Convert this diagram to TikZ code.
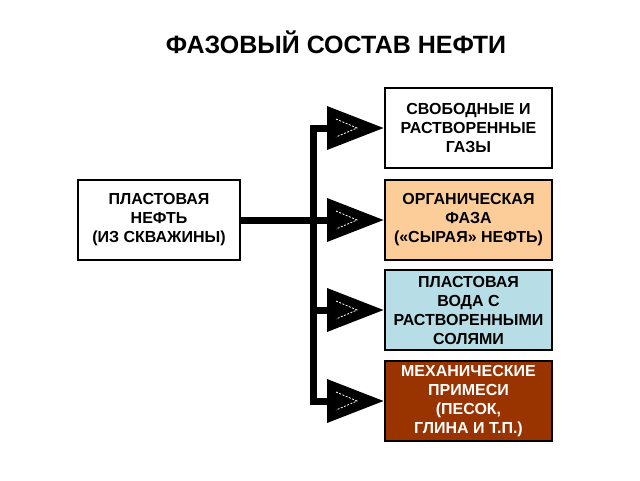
\documentclass[tikz,border=0pt]{standalone}
\usepackage{fontspec}
\setmainfont{Liberation Sans}
\usetikzlibrary{arrows.meta,calc}
\definecolor{peach}{RGB}{252,204,153}
\definecolor{lblue}{RGB}{183,222,230}
\definecolor{brownbox}{RGB}{153,51,0}
\tikzset{
  box/.style={draw=black, line width=2pt, minimum width=167pt, minimum height=80pt,
    align=center, font=\bfseries\fontsize{16}{19}\selectfont, inner sep=1pt},
  trunk/.style={line width=7pt},
  branch/.style={line width=7pt, -{Triangle[length=57pt,width=42pt]}},
  chev/.style={white, line width=0.8pt, dash pattern=on 2pt off 1.5pt}
}
\begin{document}
\begin{tikzpicture}[x=1pt,y=-1pt]
\useasboundingbox (0,0) rectangle (640,480);
\node[font=\bfseries\fontsize{25}{28}\selectfont] (title) at (336,42) {ФАЗОВЫЙ СОСТАВ НЕФТИ};
\node[box, minimum width=162pt] (src) at (159,220) {ПЛАСТОВАЯ\\НЕФТЬ\\(ИЗ СКВАЖИНЫ)};
\node[box] (b1) at (468.5,128) {СВОБОДНЫЕ И\\РАСТВОРЕННЫЕ\\ГАЗЫ};
\node[box, fill=peach] (b2) at (468.5,220) {ОРГАНИЧЕСКАЯ\\ФАЗА\\(«СЫРАЯ» НЕФТЬ)};
\node[box, fill=lblue] (b3) at (468.5,310) {ПЛАСТОВАЯ\\ВОДА С\\РАСТВОРЕННЫМИ\\СОЛЯМИ};
\node[box, fill=brownbox, text=white] (b4) at (468.5,401) {МЕХАНИЧЕСКИЕ\\ПРИМЕСИ\\(ПЕСОК,\\ГЛИНА И Т.П.)};
\coordinate (ttop) at (313.5,128);
\coordinate (tbot) at (313.5,401);
\draw[trunk, line cap=rect] (ttop) -- (tbot);
\draw[branch] (src.east) -- (b2.west);
\foreach \b in {b1,b3,b4}{
  \draw[branch] (ttop |- \b.west) ++(-3.5,0) -- (\b.west);
}
\foreach \b in {b1,b2,b3,b4}{
  \draw[chev] ($(\b.west)+(-48,-9)$) -- ($(\b.west)+(-27,0)$) -- ($(\b.west)+(-48,9)$);
}
\end{tikzpicture}
\end{document}
